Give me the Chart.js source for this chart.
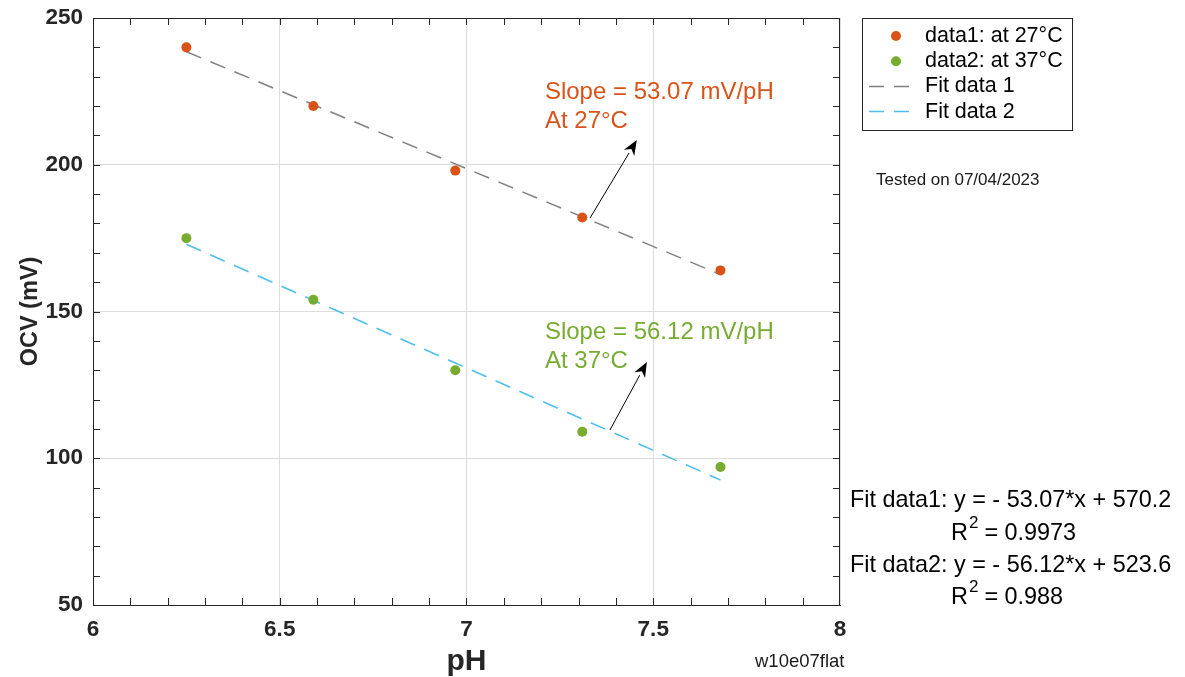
<!DOCTYPE html>
<html>
<head>
<meta charset="utf-8">
<script src="https://cdn.jsdelivr.net/npm/chart.js@4.4.0/dist/chart.umd.min.js"></script>
<style>
  body { margin: 0; background: #fff; }
</style>
</head>
<body>
<canvas id="ocvChart" width="1185" height="677"></canvas>
<script>
// measured points
var phValues = [6.25, 6.59, 6.97, 7.31, 7.68];
var ocv27 = [240, 220, 198, 182, 164];
var ocv37 = [175, 154, 130, 109, 97];

// fit line ends
var fitX = [6.25, 7.68];
var fit1 = [238.5, 162.6];
var fit2 = [172.9, 92.6];

var seriesLabels = ['data1: at 27°C', 'data2: at 37°C', 'Fit data 1', 'Fit data 2'];

// annotation texts and arrows, in data units
var slopeNotes = [
  { x: 7.21, y: 224.8, lines: ['Slope = 53.07 mV/pH', 'At 27°C'], color: '#D95319' },
  { x: 7.21, y: 143.0, lines: ['Slope = 56.12 mV/pH', 'At 37°C'], color: '#77AC30' }
];
var arrows = [
  { from: [7.331, 181.9], to: [7.456, 208.4] },
  { from: [7.384, 109.6], to: [7.483, 132.8] }
];
var fitTexts = [
  'Fit data1: y = - 53.07*x + 570.2',
  '0.9973',
  'Fit data2: y = - 56.12*x + 523.6',
  '0.988'
];

var FONT = '"Liberation Sans", Arial, Helvetica, sans-serif';
var AXIS = '#262626';

function pairs(xs, ys) {
  return xs.map(function(x, i) { return { x: x, y: ys[i] }; });
}

var extras = {
  id: 'extras',
  afterDraw: function(chart) {
    var ctx = chart.ctx;
    var a = chart.chartArea;
    var xs = chart.scales.x, ys = chart.scales.y;
    ctx.save();

    // top/right box edges
    ctx.strokeStyle = AXIS;
    ctx.lineWidth = 1;
    ctx.beginPath();
    ctx.moveTo(a.left, a.top + 0.5); ctx.lineTo(a.right, a.top + 0.5);
    ctx.moveTo(a.right - 0.5, a.top); ctx.lineTo(a.right - 0.5, a.bottom);
    ctx.stroke();

    // inward ticks on all four sides (major + minor)
    var tl = 7;
    ctx.beginPath();
    for (var v = xs.min + 0.1; v < xs.max - 0.05; v += 0.1) {
      var px = Math.round(xs.getPixelForValue(v)) + 0.5;
      ctx.moveTo(px, a.bottom); ctx.lineTo(px, a.bottom - tl);
      ctx.moveTo(px, a.top); ctx.lineTo(px, a.top + tl);
    }
    for (var w = ys.min + 10; w < ys.max - 5; w += 10) {
      var py = Math.round(ys.getPixelForValue(w)) + 0.5;
      ctx.moveTo(a.left, py); ctx.lineTo(a.left + tl, py);
      ctx.moveTo(a.right, py); ctx.lineTo(a.right - tl, py);
    }
    ctx.stroke();

    // slope notes
    ctx.font = '24px ' + FONT;
    ctx.textBaseline = 'middle';
    ctx.textAlign = 'left';
    slopeNotes.forEach(function(n) {
      ctx.fillStyle = n.color;
      var x0 = xs.getPixelForValue(n.x), y0 = ys.getPixelForValue(n.y);
      n.lines.forEach(function(t, i) { ctx.fillText(t, x0, y0 + i * 29); });
    });

    // arrows
    ctx.strokeStyle = '#000';
    ctx.fillStyle = '#000';
    ctx.lineWidth = 1;
    arrows.forEach(function(ar) {
      var x1 = xs.getPixelForValue(ar.from[0]), y1 = ys.getPixelForValue(ar.from[1]);
      var x2 = xs.getPixelForValue(ar.to[0]), y2 = ys.getPixelForValue(ar.to[1]);
      var ang = Math.atan2(y2 - y1, x2 - x1);
      var hl = 15, hw = 6;
      var bx = x2 - hl * Math.cos(ang), by = y2 - hl * Math.sin(ang);
      ctx.beginPath(); ctx.moveTo(x1, y1); ctx.lineTo(bx, by); ctx.stroke();
      ctx.beginPath();
      ctx.moveTo(x2, y2);
      ctx.lineTo(bx + hw * Math.sin(ang), by - hw * Math.cos(ang));
      ctx.lineTo(x2 - 0.7 * hl * Math.cos(ang), y2 - 0.7 * hl * Math.sin(ang));
      ctx.lineTo(bx - hw * Math.sin(ang), by + hw * Math.cos(ang));
      ctx.closePath(); ctx.fill();
    });

    // legend box
    var lx = 862, ly = 18, lw = 210, lh = 112;
    ctx.fillStyle = '#fff';
    ctx.fillRect(lx, ly, lw, lh);
    ctx.strokeStyle = AXIS;
    ctx.strokeRect(lx + 0.5, ly + 0.5, lw, lh);
    ctx.font = '21.5px ' + FONT;
    chart.data.datasets.forEach(function(ds, i) {
      var ry = 36 + i * 25.2;
      if (ds.showLine) {
        ctx.strokeStyle = ds.borderColor;
        ctx.lineWidth = 1.5;
        ctx.setLineDash([15, 10]);
        ctx.beginPath(); ctx.moveTo(869, ry); ctx.lineTo(915, ry); ctx.stroke();
        ctx.setLineDash([]);
      } else {
        ctx.fillStyle = ds.backgroundColor;
        ctx.beginPath(); ctx.arc(896, ry, 5, 0, Math.PI * 2); ctx.fill();
      }
      ctx.fillStyle = '#000';
      ctx.fillText(ds.label, 925, ry);
    });

    // side texts
    ctx.fillStyle = '#1a1a1a';
    ctx.font = '17px ' + FONT;
    ctx.fillText('Tested on 07/04/2023', 876, 180);
    ctx.font = '18.5px ' + FONT;
    ctx.fillText('w10e07flat', 755, 662);

    ctx.fillStyle = '#000';
    ctx.font = '23.4px ' + FONT;
    ctx.fillText(fitTexts[0], 850, 501);
    ctx.fillText(fitTexts[2], 850, 566);
    [[fitTexts[1], 534], [fitTexts[3], 598]].forEach(function(r) {
      ctx.font = '23.4px ' + FONT;
      ctx.fillText('R', 951, r[1]);
      var rw = ctx.measureText('R').width;
      ctx.font = '17px ' + FONT;
      ctx.fillText('2', 951 + rw + 1, r[1] - 11);
      ctx.font = '23.4px ' + FONT;
      ctx.fillText(' = ' + r[0], 951 + rw + 10, r[1]);
    });

    ctx.restore();
  }
};

new Chart(document.getElementById('ocvChart'), {
  type: 'scatter',
  data: {
    datasets: [
      {
        label: seriesLabels[0],
        data: pairs(phValues, ocv27),
        backgroundColor: '#D95319', borderColor: '#D95319',
        pointRadius: 5, pointBorderWidth: 0
      },
      {
        label: seriesLabels[1],
        data: pairs(phValues, ocv37),
        backgroundColor: '#77AC30', borderColor: '#77AC30',
        pointRadius: 5, pointBorderWidth: 0
      },
      {
        label: seriesLabels[2],
        data: pairs(fitX, fit1),
        showLine: true, pointRadius: 0,
        borderColor: '#808080', borderWidth: 1.5, borderDash: [16, 10]
      },
      {
        label: seriesLabels[3],
        data: pairs(fitX, fit2),
        showLine: true, pointRadius: 0,
        borderColor: '#4DBEEE', borderWidth: 1.5, borderDash: [16, 10]
      }
    ]
  },
  options: {
    responsive: false,
    animation: false,
    devicePixelRatio: 1,
    layout: { padding: { left: 0, top: 18, right: 345, bottom: 0 } },
    plugins: { legend: { display: false }, tooltip: { enabled: false } },
    scales: {
      x: {
        type: 'linear', min: 6, max: 8,
        afterFit: function(s) { s.height = 72; s.paddingLeft = 0; s.paddingRight = 0; },
        ticks: {
          stepSize: 0.5, padding: 11, color: '#262626',
          font: { family: FONT, size: 22.5, weight: 'bold' },
          callback: function(v) { return String(v); }
        },
        grid: { color: '#dcdcdc', drawTicks: false },
        border: { color: AXIS, width: 1 },
        title: {
          display: true, text: 'pH', color: '#262626',
          font: { family: FONT, size: 30, weight: 'bold', lineHeight: 1 },
          padding: { top: 0, bottom: 0 }
        }
      },
      y: {
        type: 'linear', min: 50, max: 250,
        afterFit: function(s) { s.width = 93; s.paddingTop = 0; s.paddingBottom = 0; },
        ticks: {
          stepSize: 50, padding: 10, color: '#262626',
          font: { family: FONT, size: 22.5, weight: 'bold' }
        },
        grid: { color: '#dcdcdc', drawTicks: false },
        border: { color: AXIS, width: 1 },
        title: {
          display: true, text: 'OCV (mV)', color: '#262626',
          font: { family: FONT, size: 23.5, weight: 'bold' },
          padding: { top: 16, bottom: 0 }
        }
      }
    }
  },
  plugins: [extras]
});
</script>
</body>
</html>
